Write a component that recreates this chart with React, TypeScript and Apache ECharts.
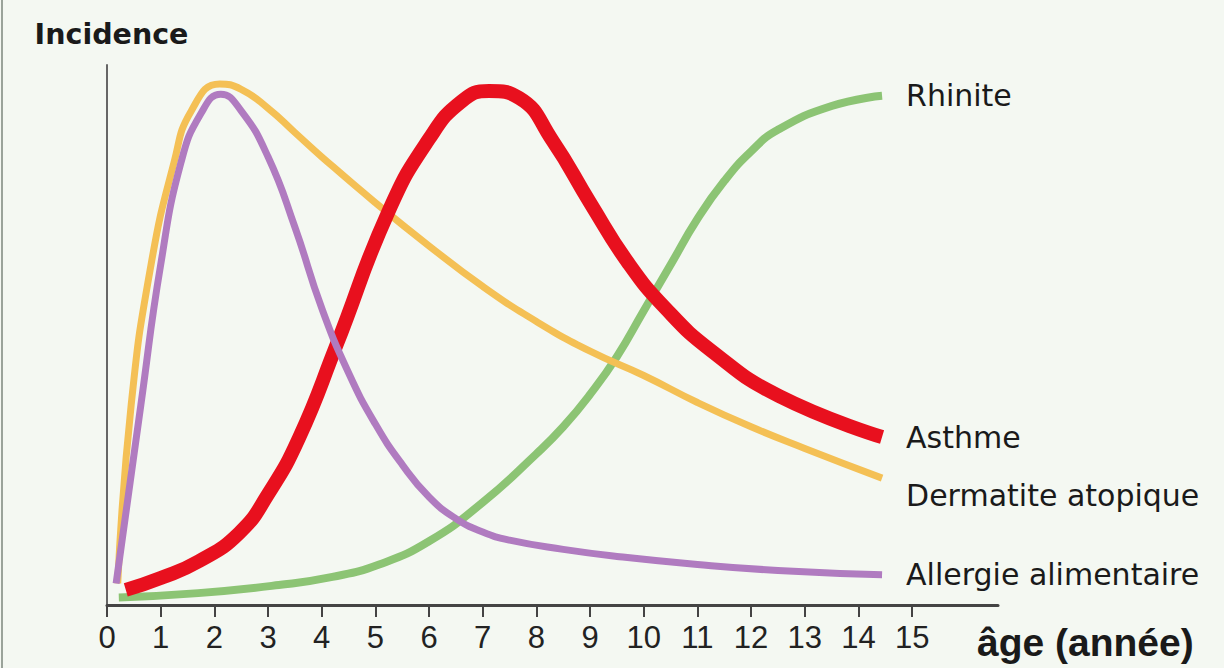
import React, { useEffect, useRef } from "react";
import * as echarts from "echarts";

const ageTicks = [0, 1, 2, 3, 4, 5, 6, 7, 8, 9, 10, 11, 12, 13, 14, 15];

const rhinite = [
  [0.22, 1.4], [1.7, 2.2], [3.2, 3.7], [4.2, 5.2], [5.07, 7.5], [6.0, 11.8], [7.0, 19],
  [8.0, 28], [8.5, 33], [9.0, 39], [9.5, 46], [10.0, 54.5], [10.5, 63], [11.0, 71.5],
  [11.5, 78.5], [12.0, 84], [12.5, 88], [13.5, 92.4], [14.44, 94.3],
];
const dermatite = [
  [0.2, 4], [0.45, 37], [0.82, 63], [1.25, 82], [1.57, 91.5], [2.1, 96.5], [2.5, 95.5],
  [3.0, 92], [3.5, 87.5], [4.0, 83], [5.0, 74.5], [6.0, 66.5], [7.0, 59], [8.0, 52.5],
  [9.0, 47], [10.0, 42.5], [11.0, 37.5], [12.0, 33], [13.0, 29], [14.44, 23.5],
];
const asthme = [
  [0.35, 2.8], [1.0, 5], [1.71, 8.1], [2.46, 13.3], [3.0, 20.5], [3.58, 31], [4.27, 48],
  [5.25, 73], [6.0, 86.3], [6.61, 93.3], [7.12, 95.2], [7.68, 93.9], [8.3, 86],
  [9.0, 74.5], [9.7, 63.5], [10.4, 55], [11.27, 47], [12.52, 38.7], [14.44, 31.1],
];
const allergie = [
  [0.17, 4], [0.63, 37], [1.0, 63], [1.38, 82], [1.75, 91], [2.12, 94.6], [2.5, 91.5],
  [3.0, 83], [3.5, 70], [4.0, 55], [4.5, 43], [5.0, 33.5], [5.5, 26], [6.0, 20], [6.5, 16],
  [7.0, 13.5], [7.5, 12], [8.5, 10.3], [9.5, 9], [11.0, 7.5], [12.5, 6.4], [14.44, 5.6],
];

const labelFont = "DejaVu Sans";

function makeSeries(name: string, data: number[][], color: string, width: number, z: number, offsetY = 0) {
  return {
    name,
    type: "line",
    data,
    smooth: 0.5,
    showSymbol: false,
    symbol: "none",
    z,
    lineStyle: { color, width },
    endLabel: {
      show: true,
      formatter: name,
      color: "#1a1a1a",
      fontSize: 30,
      fontFamily: labelFont,
      distance: 24,
      offset: [0, offsetY],
    },
  };
}

export default function App() {
  const ref = useRef<HTMLDivElement>(null);
  useEffect(() => {
    if (!ref.current) return;
    const chart = echarts.init(ref.current, undefined, { renderer: "svg" });
    chart.setOption({
      animation: false,
      backgroundColor: "#F4F8F2",
      grid: { left: 107, right: 226, top: 65, bottom: 63, containLabel: false },
      xAxis: {
        type: "value",
        min: 0,
        max: 16.6,
        axisLine: { show: true, onZero: false, lineStyle: { color: "#444", width: 3 } },
        axisTick: { show: true, length: 12, lineStyle: { color: "#444", width: 2 }, customValues: ageTicks },
        axisLabel: {
          show: true,
          customValues: ageTicks,
          margin: 17,
          fontSize: 31,
          fontFamily: "Liberation Sans",
          color: "#222",
        },
        splitLine: { show: false },
      },
      yAxis: {
        type: "value",
        min: 0,
        max: 100,
        name: "Incidence",
        nameLocation: "end",
        nameGap: 16,
        nameTextStyle: {
          fontSize: 28.5,
          fontWeight: "bold",
          fontFamily: labelFont,
          color: "#1a1a1a",
          padding: [0, 0, 0, 9],
        },
        axisLine: { show: true, lineStyle: { color: "#666", width: 2 } },
        axisTick: { show: false },
        axisLabel: { show: false },
        splitLine: { show: false },
      },
      graphic: [
        {
          type: "text",
          style: {
            x: 977,
            y: 642,
            text: "âge (année)",
            fontSize: 39,
            fontWeight: "bold",
            fontFamily: "Liberation Sans",
            fill: "#1a1a1a",
            textVerticalAlign: "middle",
          },
        },
        { type: "line", shape: { x1: 2, y1: 0, x2: 2, y2: 668 }, style: { stroke: "#9aa39a", lineWidth: 2 } },
      ],
      series: [
        makeSeries("Rhinite", rhinite, "#8CC474", 8, 1),
        makeSeries("Dermatite atopique", dermatite, "#F4C055", 7, 2, 17),
        makeSeries("Asthme", asthme, "#E8101E", 14, 3),
        makeSeries("Allergie alimentaire", allergie, "#B07BC0", 7, 4),
      ],
    });
    return () => chart.dispose();
  }, []);
  return (
    <div
      ref={ref}
      style={{ position: "fixed", left: 0, top: 0, width: 1224, height: 668 }}
    />
  );
}
